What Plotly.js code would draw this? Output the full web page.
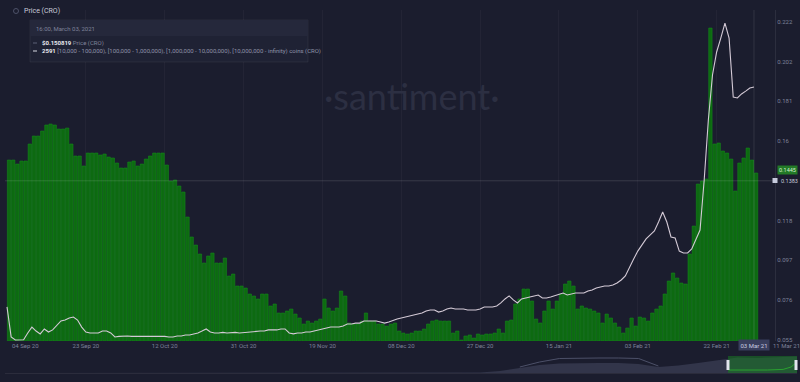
<!DOCTYPE html>
<html>
<head>
<meta charset="utf-8">
<script src="https://cdn.plot.ly/plotly-3.0.1.min.js"></script>
<style>
html,body{margin:0;padding:0;background:#1b1d2e;}
#chart{width:800px;height:382px;}
</style>
</head>
<body>
<div id="chart"></div>
<script>
// ---- data ----
const startDay = '2020-09-04';
const holders = [
2791,2791,2729,2776,2776,3038,3161,3161,3238,3331,3346,3331,3269,3269,3284,3038,2853,2853,2699,2899,
2899,2899,2868,2884,2837,2822,2745,2668,2668,2760,2776,2699,2729,2806,2853,2899,2899,2899,2714,2467,
2483,2390,2298,1912,1604,1480,1342,1203,1311,1357,1203,1203,1280,1002,1033,848,848,817,725,694,
648,725,725,540,571,432,432,463,493,416,355,262,308,278,308,339,648,509,463,509,
771,694,278,262,262,308,432,308,308,262,262,231,262,278,154,123,108,123,154,154,
185,262,308,324,308,308,308,123,154,15,77,93,46,108,93,108,108,123,185,123,
308,324,571,648,802,802,617,339,278,463,617,493,617,725,879,925,848,493,540,509,
493,463,432,278,416,355,278,216,123,200,355,231,370,355,308,432,493,540,725,925,
1049,971,894,879,1342,1773,2421,2467,2498,4826,3038,3053,2930,2899,2806,2313,2745,2822,2976,2791,
2591];
const price = [
0.0724,0.0566,0.0550,0.0550,0.0551,0.0587,0.0618,0.0597,0.0582,0.0608,0.0592,0.0603,0.0629,0.0650,0.0655,0.0666,0.0671,0.0655,0.0618,0.0592,
0.0587,0.0587,0.0587,0.0597,0.0597,0.0587,0.0566,0.0569,0.0571,0.0571,0.0569,0.0569,0.0571,0.0572,0.0571,0.0569,0.0569,0.0571,0.0569,0.0566,
0.0566,0.0571,0.0571,0.0576,0.0576,0.0582,0.0587,0.0597,0.0608,0.0592,0.0587,0.0587,0.0590,0.0587,0.0589,0.0590,0.0587,0.0589,0.0590,0.0592,
0.0597,0.0597,0.0597,0.0603,0.0603,0.0603,0.0608,0.0608,0.0587,0.0582,0.0587,0.0587,0.0592,0.0592,0.0597,0.0603,0.0608,0.0613,0.0618,0.0618,
0.0618,0.0624,0.0634,0.0634,0.0639,0.0639,0.0650,0.0650,0.0650,0.0650,0.0645,0.0639,0.0645,0.0655,0.0661,0.0666,0.0671,0.0676,0.0682,0.0687,
0.0692,0.0703,0.0708,0.0708,0.0697,0.0703,0.0713,0.0718,0.0713,0.0713,0.0713,0.0708,0.0708,0.0708,0.0713,0.0724,0.0724,0.0724,0.0729,0.0745,
0.0766,0.0782,0.0761,0.0745,0.0766,0.0771,0.0776,0.0782,0.0787,0.0771,0.0771,0.0776,0.0782,0.0792,0.0797,0.0787,0.0792,0.0797,0.0797,0.0797,
0.0808,0.0813,0.0824,0.0829,0.0834,0.0834,0.0839,0.0850,0.0866,0.0887,0.0934,0.0976,0.1018,0.1050,0.1082,0.1103,0.1124,0.1171,0.1224,0.1171,
0.1092,0.1087,0.1018,0.1008,0.1008,0.1029,0.1076,0.1129,0.1392,0.1708,0.1945,0.2066,0.2139,0.2218,0.2139,0.1829,0.1824,0.1845,0.1860,0.1876,
0.1882];
const xTickDates = ['2020-09-23','2020-10-12','2020-10-31','2020-11-19','2020-12-08','2020-12-27','2021-01-15','2021-02-03','2021-02-22'];
const xTickLabels = ['23 Sep 20','12 Oct 20','31 Oct 20','19 Nov 20','08 Dec 20','27 Dec 20','15 Jan 21','03 Feb 21','22 Feb 21'];
const priceTickValues = [0.055,0.0762,0.0971,0.1179,0.1597,0.1806,0.2015,0.2223];
const priceTickLabels = ['0.055','0.076','0.097','0.118','0.16','0.181','0.202','0.222'];
// navigator (overview) data
const navVolume = [0,0,0,0,0,0,0,0,0,0,0,0,0,0,0,0,0,0,0,0,0,0,0,0,0.5,2,5,8,9.5,10,10,10,9,6,7.5,10,13,15.5,15,15.5,16.5];
const navPrice  = [null,null,null,null,null,null,null,null,null,null,null,null,null,null,null,null,null,null,null,null,null,null,null,null,null,null,6,11,14.5,15,15,15,14.5,7,null,null,null,null,null,null,null];
const navSelX = [36.55,37.5,38.5,39.3,39.7,40];
const navSelY = [3,2.8,3,3.6,6,11];

// ---- helpers ----
const dates = holders.map((_, i) => {
  const d = new Date(Date.parse(startDay + 'T00:00:00Z') + i * 86400000);
  return d.toISOString().slice(0, 10);
});
const barDates = dates.map(d => d + ' 12:00');
const navIndex = navVolume.map((_, i) => i);
const PL = 5, PW = 792, PT = 10, PH = 364;
const px = x => (x - PL) / PW;
const py = y => (PT + PH - y) / PH;

const FONT = 'Roboto, "Open Sans", sans-serif';
const tickColor = '#7d8299';

const traces = [
  {type:'bar', x: barDates, y: holders, xaxis:'x', yaxis:'y',
   marker:{color:'#0d6a11', line:{color:'#17901c', width:0.5}}, hoverinfo:'skip'},
  {type:'scatter', mode:'lines', x: dates, y: price, xaxis:'x', yaxis:'y2',
   line:{color:'#d4cad6', width:1.1}, hoverinfo:'skip'},
  {type:'scatter', mode:'lines', x: navIndex, y: navVolume, xaxis:'x2', yaxis:'y3',
   fill:'tozeroy', fillcolor:'#32354a', line:{width:0, color:'#32354a'}, hoverinfo:'skip'},
  {type:'scatter', mode:'lines', x: navIndex, y: navPrice, xaxis:'x2', yaxis:'y3',
   line:{color:'#4c5068', width:1}, connectgaps:false, hoverinfo:'skip'},
  {type:'scatter', mode:'lines', x: navSelX, y: navSelY, xaxis:'x2', yaxis:'y3',
   line:{color:'#3fd13f', width:1}, hoverinfo:'skip'}
];

const layout = {
  width:800, height:382,
  margin:{l:PL, r:800-PL-PW, t:PT, b:382-PT-PH},
  paper_bgcolor:'#1b1d2e', plot_bgcolor:'rgba(0,0,0,0)',
  showlegend:false, bargap:0.18,
  font:{family:FONT, color:tickColor, size:6},
  xaxis:{type:'date', domain:[0, px(775)], anchor:'y',
    range:['2020-09-03 12:26','2021-03-08 01:30'],
    tickmode:'array', tickvals:xTickDates, ticktext:xTickLabels,
    tickfont:{size:6, color:tickColor}, showgrid:true, gridcolor:'rgba(255,255,255,0.035)',
    zeroline:false, showline:false, ticks:'', fixedrange:true},
  yaxis:{domain:[py(341), 1], range:[0, 5104], visible:false, fixedrange:true},
  yaxis2:{overlaying:'y', side:'right', anchor:'x', range:[0.05447, 0.2287],
    tickmode:'array', tickvals:priceTickValues, ticktext:priceTickLabels,
    tickfont:{size:6, color:tickColor}, showgrid:false, zeroline:false,
    showline:true, linecolor:'rgba(255,255,255,0.08)', ticks:'', fixedrange:true},
  xaxis2:{domain:[0,1], anchor:'y3', range:[0,40], showticklabels:false, showgrid:false,
    zeroline:false, showline:true, linecolor:'rgba(255,255,255,0.07)', ticks:'', fixedrange:true},
  yaxis3:{domain:[py(373), py(355)], anchor:'x2', range:[0,18], visible:false, fixedrange:true},
  shapes:[
    // crosshair
    {type:'line', xref:'paper', x0:0, x1:px(775), yref:'y2', y0:0.1388, y1:0.1388,
     line:{color:'rgba(255,255,255,0.13)', width:1}},
    {type:'line', xref:'x', x0:'2021-03-03', x1:'2021-03-03', yref:'y domain', y0:0, y1:1,
     line:{color:'rgba(255,255,255,0.10)', width:1}},
    // tooltip box
    {type:'rect', xref:'paper', yref:'paper', x0:px(30), x1:px(308), y0:py(62), y1:py(20),
     fillcolor:'#1f2234', line:{color:'rgba(255,255,255,0.06)', width:1}},
    {type:'rect', xref:'paper', yref:'paper', x0:px(30), x1:px(308), y0:py(36), y1:py(20),
     fillcolor:'#25283b', line:{width:0}},
    // title icon
    {type:'circle', xref:'paper', yref:'paper', x0:px(13.5), x1:px(18.5), y0:py(13.5), y1:py(8.5),
     line:{color:'#4d5168', width:1}},
    // legend dashes
    {type:'line', xref:'paper', yref:'paper', x0:px(33), x1:px(37), y0:py(43), y1:py(43),
     line:{color:'#5d6177', width:1}},
    {type:'line', xref:'paper', yref:'paper', x0:px(33), x1:px(37), y0:py(51), y1:py(51),
     line:{color:'#d8d8e2', width:1}},
    // cursor marker square on right axis
    {type:'rect', xref:'paper', yref:'paper', x0:px(772.5), x1:px(777.5), y0:py(183), y1:py(178),
     fillcolor:'#c6cadc', line:{width:0}},
    // navigator selection
    {type:'rect', xref:'paper', yref:'paper', x0:px(728), x1:px(797), y0:py(373), y1:py(356),
     fillcolor:'rgba(24,120,34,0.55)', line:{width:0}},
    {type:'rect', xref:'paper', yref:'paper', x0:px(726.5), x1:px(729.5), y0:py(370), y1:py(360),
     fillcolor:'#e3e5ee', line:{width:0}},
    {type:'rect', xref:'paper', yref:'paper', x0:px(794.5), x1:px(797.5), y0:py(370), y1:py(360),
     fillcolor:'#e3e5ee', line:{width:0}}
  ],
  annotations:[
    {xref:'paper', yref:'paper', x:px(412), y:py(96), text:'·santiment·', showarrow:false,
     font:{family:'Lato, '+FONT, size:36, color:'#2c2f42'}, xanchor:'center', yanchor:'middle'},
    {xref:'paper', yref:'paper', x:px(22), y:py(11), text:'Price (CRO)', showarrow:false,
     font:{size:7, color:'#c9cbd8'}, xanchor:'left', yanchor:'middle'},
    {xref:'paper', yref:'paper', x:px(34), y:py(28), text:'16:00, March 03, 2021', showarrow:false,
     font:{size:6, color:'#7f839a'}, xanchor:'left', yanchor:'middle'},
    {xref:'paper', yref:'paper', x:px(40), y:py(43), showarrow:false, xanchor:'left', yanchor:'middle',
     text:'<b><span style="color:#e8e9f0">$0.150819</span></b> Price (CRO)', font:{size:6, color:'#7f839a'}},
    {xref:'paper', yref:'paper', x:px(40), y:py(51), showarrow:false, xanchor:'left', yanchor:'middle',
     text:'<b><span style="color:#e8e9f0">2591</span></b> [10,000 - 100,000), [100,000 - 1,000,000), [1,000,000 - 10,000,000), [10,000,000 - infinity) coins (CRO)',
     font:{size:6, color:'#8f93a8'}},
    // right-side value labels
    {xref:'paper', yref:'y2', x:px(777), y:0.1445, text:'0.1445', showarrow:false, xanchor:'left', yanchor:'middle',
     bgcolor:'#237a27', borderpad:1, font:{size:5.5, color:'#d4efd4'}},
    {xref:'paper', yref:'y2', x:px(779), y:0.1388, text:'0.1383', showarrow:false, xanchor:'left', yanchor:'middle',
     font:{size:5.5, color:'#c6cadc'}},
    // x labels drawn outside the axis tick set
    {xref:'paper', yref:'paper', x:px(10), y:py(345), text:'04 Sep 20', showarrow:false, xanchor:'left', yanchor:'middle',
     font:{size:6, color:tickColor}},
    {xref:'paper', yref:'paper', x:px(771), y:py(345), text:'11 Mar 21', showarrow:false, xanchor:'left', yanchor:'middle',
     font:{size:6, color:tickColor}},
    {xref:'x', yref:'paper', x:'2021-03-03', y:py(345), text:'03 Mar 21', showarrow:false, xanchor:'center', yanchor:'middle',
     bgcolor:'#393e5d', borderpad:1.5, font:{size:6, color:'#c8cbe0'}}
  ]
};

Plotly.newPlot('chart', traces, layout, {displayModeBar:false, staticPlot:true});
</script>
</body>
</html>
